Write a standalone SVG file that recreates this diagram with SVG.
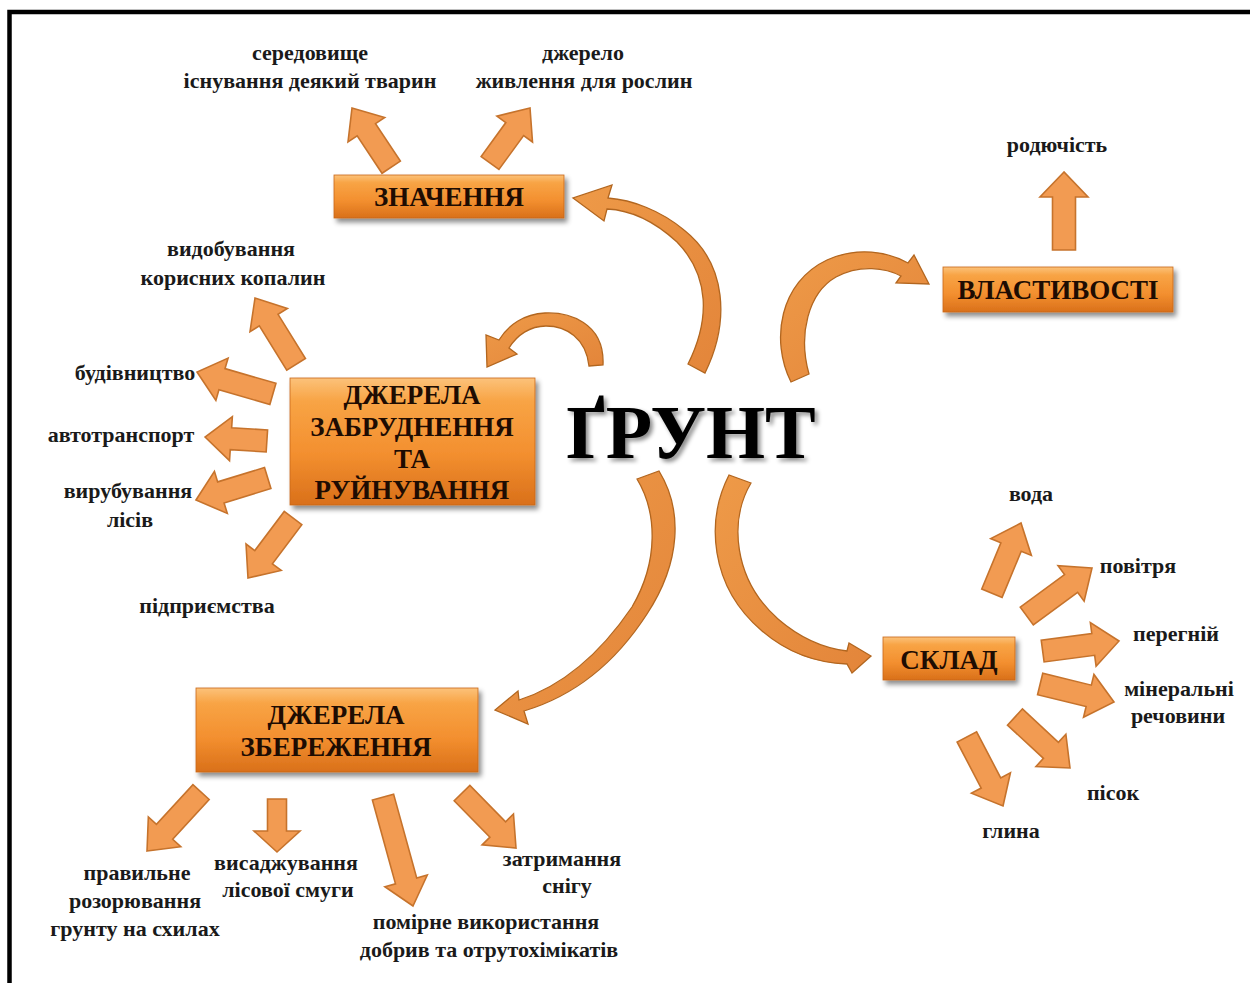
<svg xmlns="http://www.w3.org/2000/svg" width="1250" height="983" viewBox="0 0 1250 983">
<defs>
<style>
.lbl{font-family:"Liberation Serif","Times New Roman",serif;font-weight:bold;font-size:22px;fill:#1a1a1a;text-anchor:middle}
.bt{font-family:"Liberation Serif","Times New Roman",serif;font-weight:bold;font-size:27px;fill:#1e0c02;text-anchor:middle}
.box{fill:url(#bg);stroke:#c8681a;stroke-width:0.8;filter:url(#sh)}
.sa{fill:#f29b52;stroke:#c6732c;stroke-width:1.6;stroke-linejoin:miter}
.ca{fill:url(#cg);stroke:#b2661f;stroke-width:1.3}
.big{font-family:"Liberation Serif","Times New Roman",serif;font-weight:bold;font-size:76px;fill:#050505;text-anchor:middle;filter:url(#tsh)}
</style>
<linearGradient id="bg" x1="0" y1="0" x2="0" y2="1">
<stop offset="0" stop-color="#fcc27a"/>
<stop offset="0.18" stop-color="#f8a445"/>
<stop offset="0.6" stop-color="#f38f2f"/>
<stop offset="1" stop-color="#d9701a"/>
</linearGradient>
<linearGradient id="cg" x1="0" y1="0" x2="1" y2="1">
<stop offset="0" stop-color="#ee9a48"/>
<stop offset="1" stop-color="#e3853a"/>
</linearGradient>
<filter id="sh" x="-10%" y="-10%" width="125%" height="140%">
<feDropShadow dx="3" dy="4" stdDeviation="2.5" flood-color="#000" flood-opacity="0.45"/>
</filter>
<filter id="tsh" x="-10%" y="-20%" width="125%" height="150%">
<feDropShadow dx="3" dy="3" stdDeviation="2" flood-color="#000" flood-opacity="0.45"/>
</filter>
</defs>
<rect width="1250" height="983" fill="#ffffff"/>
<rect x="9.5" y="12" width="1262" height="1000" fill="none" stroke="#000" stroke-width="4.5"/>

<g id="connectors">
<!-- curved arrows from ГРУНТ -->
<path class="ca" d="M688,364 L705,373 C730,322 727,264 684,230 C660,210 632,200 608,198 L612,185 L573,198 L604,221 L607,209 C630,210 652,219 677,242 C710,276 710,320 688,364 Z"/>
<path class="ca" d="M589,366 L603,365 C605,322 568,312 545,313 C524,314 508,325 499,340 L486,335 L487,367 L517,354 L509,348 C517,335 530,326 546,326 C566,326 586,338 589,366 Z"/>
<path class="ca" d="M809,374 L791,382 C770,340 780,282 827,260 C858,246 888,252 908,263 L914,255 L929,284 L896,283 L901,276 C886,268 860,264 836,277 C808,293 798,335 809,374 Z"/>
<path class="ca" d="M637,479 L659,471 C683,510 681,562 647,614 C616,662 574,696 524,711 L528,724 L495,710 L518,691 L519,700 C566,685 602,651 632,607 C659,561 657,512 637,479 Z"/>
<path class="ca" d="M751,483 L729,475 C706,520 709,586 762,631 C790,655 818,663 847,664 L852,673 L871,656 L849,643 L847,651 C822,648 800,638 778,619 C733,579 729,520 751,483 Z"/>

<!-- straight arrows -->
<path class="sa" transform="translate(352,108) rotate(-123.5)" d="M0,0 L-26,-22 L-26,-11 L-71,-11 L-71,11 L-26,11 L-26,22 Z"/>
<path class="sa" transform="translate(530,108) rotate(-54)" d="M0,0 L-26,-22 L-26,-11 L-68,-11 L-68,11 L-26,11 L-26,22 Z"/>
<path class="sa" transform="translate(1064,172) rotate(-90)" d="M0,0 L-25,-24 L-25,-11.5 L-78,-11.5 L-78,11.5 L-25,11.5 L-25,24 Z"/>

<path class="sa" transform="translate(255,298) rotate(-121.8)" d="M0,0 L-26,-22 L-26,-11 L-78,-11 L-78,11 L-26,11 L-26,22 Z"/>
<path class="sa" transform="translate(197,372) rotate(-163.9)" d="M0,0 L-26,-22 L-26,-11 L-79,-11 L-79,11 L-26,11 L-26,22 Z"/>
<path class="sa" transform="translate(205,437) rotate(-176.3)" d="M0,0 L-26,-22 L-26,-11 L-62,-11 L-62,11 L-26,11 L-26,22 Z"/>
<path class="sa" transform="translate(196,500) rotate(163)" d="M0,0 L-26,-22 L-26,-11 L-75,-11 L-75,11 L-26,11 L-26,22 Z"/>
<path class="sa" transform="translate(248,578) rotate(126.9)" d="M0,0 L-26,-22 L-26,-11 L-75,-11 L-75,11 L-26,11 L-26,22 Z"/>

<path class="sa" transform="translate(1021,523) rotate(-67.5)" d="M0,0 L-26,-22 L-26,-11 L-76,-11 L-76,11 L-26,11 L-26,22 Z"/>
<path class="sa" transform="translate(1092,568) rotate(-36.4)" d="M0,0 L-26,-22 L-26,-11 L-81,-11 L-81,11 L-26,11 L-26,22 Z"/>
<path class="sa" transform="translate(1119,641) rotate(-7.5)" d="M0,0 L-26,-22 L-26,-11 L-77,-11 L-77,11 L-26,11 L-26,22 Z"/>
<path class="sa" transform="translate(1114,702) rotate(13.7)" d="M0,0 L-26,-22 L-26,-11 L-76,-11 L-76,11 L-26,11 L-26,22 Z"/>
<path class="sa" transform="translate(1070,768) rotate(42.8)" d="M0,0 L-26,-22 L-26,-11 L-75,-11 L-75,11 L-26,11 L-26,22 Z"/>
<path class="sa" transform="translate(1003,806) rotate(62.4)" d="M0,0 L-26,-22 L-26,-11 L-78,-11 L-78,11 L-26,11 L-26,22 Z"/>

<path class="sa" transform="translate(147,851) rotate(132.5)" d="M0,0 L-26,-22 L-26,-11 L-80,-11 L-80,11 L-26,11 L-26,22 Z"/>
<path class="sa" transform="translate(277,852) rotate(90)" d="M0,0 L-21,-23 L-21,-9.5 L-53,-9.5 L-53,9.5 L-21,9.5 L-21,23 Z"/>
<path class="sa" transform="translate(413,906) rotate(74.6)" d="M0,0 L-26,-22 L-26,-11 L-113,-11 L-113,11 L-26,11 L-26,22 Z"/>
<path class="sa" transform="translate(516,848) rotate(45.5)" d="M0,0 L-26,-22 L-26,-11 L-77,-11 L-77,11 L-26,11 L-26,22 Z"/>
</g>

<g id="node-grunt">
<text class="big" x="691" y="458">ҐРУНТ</text>
</g>

<g id="node-znachennia">
<rect class="box" x="334" y="175" width="230" height="43"/>
<text class="bt" x="449" y="206">ЗНАЧЕННЯ</text>
</g>

<g id="node-vlastyvosti">
<rect class="box" x="943" y="267" width="230" height="45"/>
<text class="bt" x="1058" y="299">ВЛАСТИВОСТІ</text>
</g>

<g id="node-zabrudnennia">
<rect class="box" x="290" y="378" width="245" height="127"/>
<text class="bt" x="412" y="404">ДЖЕРЕЛА</text>
<text class="bt" x="412" y="436">ЗАБРУДНЕННЯ</text>
<text class="bt" x="412" y="468">ТА</text>
<text class="bt" x="412" y="499">РУЙНУВАННЯ</text>
</g>

<g id="node-zberezhennia">
<rect class="box" x="196" y="688" width="282" height="84"/>
<text class="bt" x="336" y="724">ДЖЕРЕЛА</text>
<text class="bt" x="336" y="756">ЗБЕРЕЖЕННЯ</text>
</g>

<g id="node-sklad">
<rect class="box" x="883" y="637" width="132" height="43"/>
<text class="bt" x="949" y="669">СКЛАД</text>
</g>

<g id="labels-znachennia">
<text class="lbl" x="310" y="60">середовище</text>
<text class="lbl" x="310" y="88">існування деякий тварин</text>
<text class="lbl" x="583" y="60">джерело</text>
<text class="lbl" x="584" y="88">живлення для рослин</text>
</g>
<g id="labels-vlastyvosti">
<text class="lbl" x="1057" y="152">родючість</text>
</g>
<g id="labels-zabrudnennia">
<text class="lbl" x="231" y="256">видобування</text>
<text class="lbl" x="233" y="285">корисних копалин</text>
<text class="lbl" x="135" y="380">будівництво</text>
<text class="lbl" x="121" y="442">автотранспорт</text>
<text class="lbl" x="128" y="498">вирубування</text>
<text class="lbl" x="130" y="527">лісів</text>
<text class="lbl" x="207" y="613">підприємства</text>
</g>
<g id="labels-sklad">
<text class="lbl" x="1031" y="501">вода</text>
<text class="lbl" x="1138" y="573">повітря</text>
<text class="lbl" x="1176" y="641">перегній</text>
<text class="lbl" x="1179" y="696">мінеральні</text>
<text class="lbl" x="1178" y="723">речовини</text>
<text class="lbl" x="1113" y="800">пісок</text>
<text class="lbl" x="1011" y="838">глина</text>
</g>
<g id="labels-zberezhennia">
<text class="lbl" x="137" y="880">правильне</text>
<text class="lbl" x="135" y="908">розорювання</text>
<text class="lbl" x="135" y="936">грунту на схилах</text>
<text class="lbl" x="286" y="870">висаджування</text>
<text class="lbl" x="288" y="897">лісової смуги</text>
<text class="lbl" x="562" y="866">затримання</text>
<text class="lbl" x="567" y="893">снігу</text>
<text class="lbl" x="486" y="929">помірне використання</text>
<text class="lbl" x="489" y="957">добрив та отрутохімікатів</text>
</g>
</svg>
